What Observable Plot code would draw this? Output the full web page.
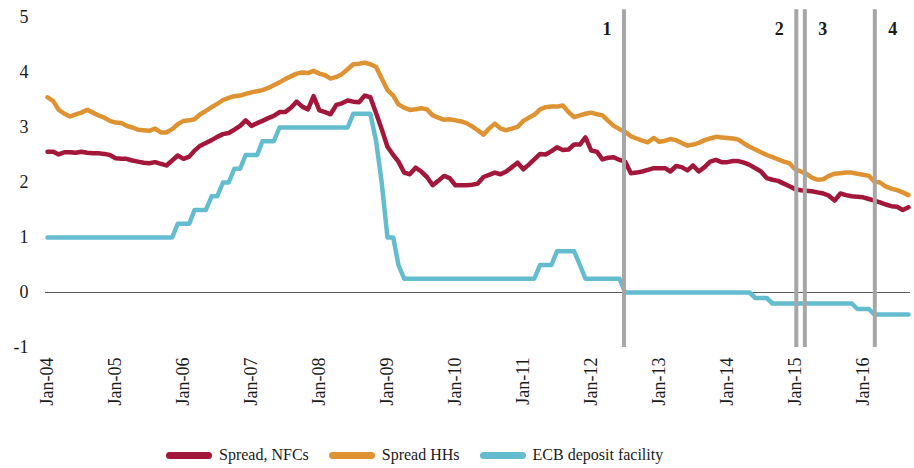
<!DOCTYPE html>
<html>
<head>
<meta charset="utf-8">
<script src="https://cdn.jsdelivr.net/npm/d3@7"></script>
<script src="https://cdn.jsdelivr.net/npm/@observablehq/plot@0.6"></script>
<style>
  html, body { margin: 0; padding: 0; background: #fff; }
  #wrap { position: relative; width: 914px; height: 468px; font-family: "Liberation Serif", serif; color: #1a1a1a; }
  #legend { position: absolute; left: 0; top: 443px; height: 24px; display: flex; align-items: center; padding-left: 166px; gap: 20px; font-size: 16px; }
  .item { display: flex; align-items: center; gap: 7px; }
  .sw { display: inline-block; width: 46px; height: 7px; border-radius: 4px; }
</style>
</head>
<body>
<div id="wrap"><div id="chart"></div><div id="legend"></div></div>
<script>
// Series names and colours
const seriesNames = ["Spread, NFCs", "Spread HHs", "ECB deposit facility"];
const seriesColors = ["#a3173b", "#df9232", "#64bccf"];

// Monthly observations, Jan 2004 .. Sep 2016
const spreadNFC = [
  2.56, 2.56, 2.51, 2.55, 2.55, 2.54, 2.56, 2.54, 2.53, 2.53, 2.52, 2.50,
  2.44, 2.43, 2.43, 2.40, 2.38, 2.36, 2.35, 2.37, 2.34, 2.31, 2.40, 2.49,
  2.43, 2.47, 2.58, 2.67, 2.72, 2.77, 2.83, 2.88, 2.90, 2.96, 3.03, 3.13,
  3.03, 3.08, 3.12, 3.17, 3.21, 3.28, 3.28, 3.36, 3.47, 3.38, 3.33, 3.57,
  3.31, 3.28, 3.24, 3.41, 3.44, 3.49, 3.47, 3.46, 3.58, 3.55, 3.26, 2.97,
  2.65, 2.50, 2.38, 2.18, 2.15, 2.27, 2.20, 2.10, 1.95, 2.03, 2.12, 2.08,
  1.95, 1.95, 1.95, 1.96, 1.98, 2.10, 2.14, 2.18, 2.15, 2.20, 2.28, 2.36,
  2.24, 2.33, 2.42, 2.52, 2.51, 2.57, 2.64, 2.59, 2.60, 2.69, 2.69, 2.82,
  2.58, 2.56, 2.42, 2.45, 2.46, 2.41, 2.38, 2.17, 2.18, 2.20, 2.23, 2.26,
  2.26, 2.26, 2.20, 2.30, 2.28, 2.22, 2.31, 2.20, 2.28, 2.38, 2.41, 2.37,
  2.37, 2.39, 2.39, 2.36, 2.32, 2.26, 2.20, 2.08, 2.05, 2.03, 1.98, 1.93,
  1.88, 1.86, 1.85, 1.84, 1.82, 1.80, 1.76, 1.67, 1.80, 1.77, 1.75, 1.74,
  1.73, 1.70, 1.67, 1.64, 1.60, 1.57, 1.56, 1.50, 1.55
];
const spreadHH = [
  3.55, 3.48, 3.32, 3.25, 3.20, 3.24, 3.27, 3.32, 3.27, 3.22, 3.18, 3.12,
  3.09, 3.08, 3.03, 3.00, 2.96, 2.95, 2.94, 2.98, 2.91, 2.91, 2.97, 3.06,
  3.12, 3.13, 3.15, 3.24, 3.30, 3.37, 3.43, 3.50, 3.54, 3.57, 3.58, 3.61,
  3.64, 3.66, 3.68, 3.72, 3.77, 3.82, 3.88, 3.93, 3.98, 4.00, 3.99, 4.03,
  3.98, 3.95, 3.89, 3.92, 3.97, 4.06, 4.15, 4.16, 4.18, 4.15, 4.10, 3.89,
  3.68, 3.58, 3.42, 3.36, 3.32, 3.33, 3.35, 3.33, 3.22, 3.18, 3.14, 3.15,
  3.13, 3.11, 3.08, 3.02, 2.95, 2.87, 2.98, 3.07, 2.98, 2.95, 2.98, 3.01,
  3.12, 3.18, 3.23, 3.33, 3.37, 3.38, 3.38, 3.40, 3.28, 3.19, 3.22, 3.25,
  3.27, 3.24, 3.22, 3.12, 3.03, 2.97, 2.92, 2.84, 2.80, 2.76, 2.73, 2.81,
  2.74, 2.76, 2.79, 2.77, 2.72, 2.67, 2.69, 2.72, 2.77, 2.80, 2.83, 2.82,
  2.81, 2.80, 2.78, 2.71, 2.65, 2.60, 2.55, 2.50, 2.46, 2.42, 2.38, 2.35,
  2.24, 2.20, 2.16, 2.09, 2.05, 2.06, 2.12, 2.16, 2.17, 2.18, 2.18, 2.16,
  2.14, 2.12, 2.02, 2.00, 1.93, 1.89, 1.86, 1.82, 1.77
];
const ecbDeposit = [
  1, 1, 1, 1, 1, 1, 1, 1, 1, 1, 1, 1,
  1, 1, 1, 1, 1, 1, 1, 1, 1, 1, 1, 1.25,
  1.25, 1.25, 1.5, 1.5, 1.5, 1.75, 1.75, 2, 2, 2.25, 2.25, 2.5,
  2.5, 2.5, 2.75, 2.75, 2.75, 3, 3, 3, 3, 3, 3, 3,
  3, 3, 3, 3, 3, 3, 3.25, 3.25, 3.25, 3.25, 2.75, 2,
  1, 1, 0.5, 0.25, 0.25, 0.25, 0.25, 0.25, 0.25, 0.25, 0.25, 0.25,
  0.25, 0.25, 0.25, 0.25, 0.25, 0.25, 0.25, 0.25, 0.25, 0.25, 0.25, 0.25,
  0.25, 0.25, 0.25, 0.5, 0.5, 0.5, 0.75, 0.75, 0.75, 0.75, 0.5, 0.25,
  0.25, 0.25, 0.25, 0.25, 0.25, 0.25, 0, 0, 0, 0, 0, 0,
  0, 0, 0, 0, 0, 0, 0, 0, 0, 0, 0, 0,
  0, 0, 0, 0, 0, -0.1, -0.1, -0.1, -0.2, -0.2, -0.2, -0.2,
  -0.2, -0.2, -0.2, -0.2, -0.2, -0.2, -0.2, -0.2, -0.2, -0.2, -0.2, -0.3,
  -0.3, -0.3, -0.4, -0.4, -0.4, -0.4, -0.4, -0.4, -0.4
];

// Event markers
const eventDates = ["2012-06-25", "2015-01-07", "2015-02-22", "2016-03-04"];
const eventLabels = ["1", "2", "3", "4"];

// Axis ticks
const yTicks = [-1, 0, 1, 2, 3, 4, 5];
const xTickYears = [2004, 2005, 2006, 2007, 2008, 2009, 2010, 2011, 2012, 2013, 2014, 2015, 2016];

const months = d3.utcMonth.range(new Date(Date.UTC(2004, 0, 1)), new Date(Date.UTC(2016, 9, 1)));
const seriesValues = [spreadNFC, spreadHH, ecbDeposit];
const rows = seriesValues.flatMap((vals, s) => vals.map((v, i) => ({date: months[i], value: v, series: seriesNames[s]})));
const events = eventDates.map((d, i) => ({date: new Date(d + "T00:00:00Z"), label: eventLabels[i]}));
const xTicks = xTickYears.map(y => new Date(Date.UTC(y, 0, 1)));

const chart = Plot.plot({
  width: 914,
  height: 430,
  marginTop: 17,
  marginBottom: 83,
  marginLeft: 45,
  marginRight: 4,
  style: {fontFamily: "Liberation Serif, serif", fontSize: "18px", color: "#1a1a1a", background: "#fff"},
  x: {type: "utc", domain: [months[0], months[months.length - 1]], insetLeft: 2, insetRight: 2},
  y: {domain: [-1, 5]},
  color: {domain: seriesNames, range: seriesColors},
  marks: [
    Plot.ruleY([0], {stroke: "#5a5a5a", strokeWidth: 1.2}),
    Plot.line(rows, {x: "date", y: "value", z: "series", stroke: "series", strokeWidth: 4.5, strokeLinejoin: "round", strokeLinecap: "round"}),
    Plot.ruleX(events, {x: "date", y1: -1, y2: 5.14, stroke: "#a6a6a6", strokeWidth: 4}),
    Plot.text(events.filter((d, i) => i < 2), {x: "date", y: 4.79, text: "label", dx: -17, fontWeight: "bold", fontSize: 18, fill: "#1a1a1a"}),
    Plot.text(events.filter((d, i) => i >= 2), {x: "date", y: 4.79, text: "label", dx: 18, fontWeight: "bold", fontSize: 18, fill: "#1a1a1a"}),
    Plot.axisX({ticks: xTicks, tickFormat: d3.utcFormat("%b-%y"), tickRotate: -90, tickSize: 0, tickPadding: 10, fontSize: 18, label: null}),
    Plot.axisY({ticks: yTicks, tickFormat: d => String(d), tickSize: 0, tickPadding: 17, fontSize: 18, label: null})
  ]
});
document.getElementById("chart").appendChild(chart);

const legend = document.getElementById("legend");
seriesNames.forEach((name, i) => {
  const item = document.createElement("div");
  item.className = "item";
  const sw = document.createElement("span");
  sw.className = "sw";
  sw.style.background = seriesColors[i];
  const t = document.createElement("span");
  t.textContent = name;
  item.appendChild(sw);
  item.appendChild(t);
  legend.appendChild(item);
});
</script>
</body>
</html>
